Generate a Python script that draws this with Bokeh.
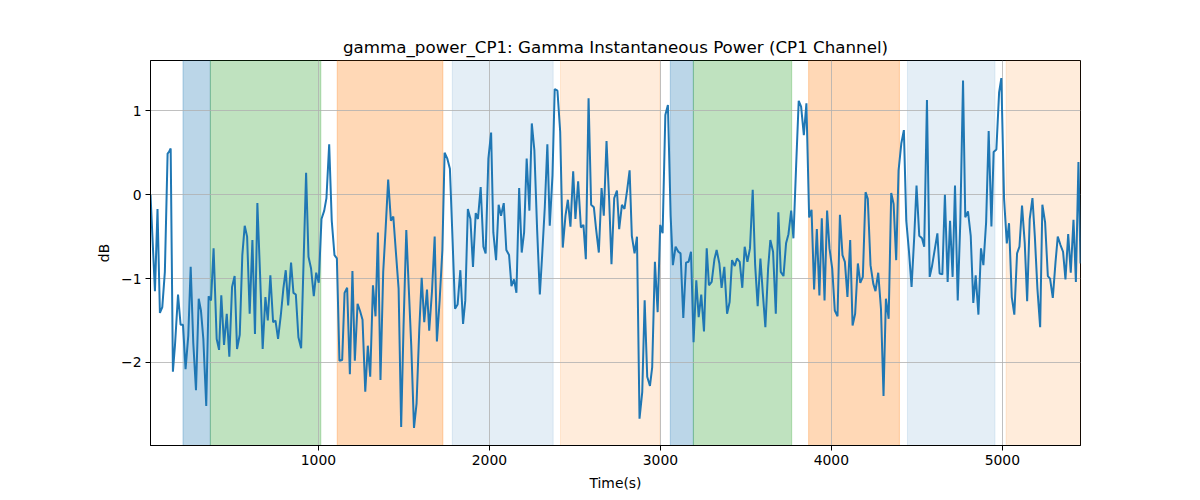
from bokeh.plotting import figure
from bokeh.models import FixedTicker, CustomJSTickFormatter, ColumnDataSource
from bokeh.embed import file_html
from bokeh.resources import INLINE

# ---- data ----
time_s = [18, 44, 59, 73, 87, 102, 118, 126, 136, 149, 161, 179, 194, 208, 223, 239, 253, 268, 284, 300,
          313, 327, 344, 358, 372, 387, 405, 419, 432, 448, 464, 479, 495, 510, 524, 540, 555, 569, 583, 598,
          614, 629, 643, 659, 674, 690, 704, 719, 735, 749, 764, 780, 795, 809, 823, 840, 854, 868, 883, 899,
          928, 942, 957, 973, 987, 1002, 1018, 1034, 1047, 1063, 1078, 1094, 1108, 1123, 1139, 1153, 1168, 1184, 1199, 1213,
          1229, 1244, 1258, 1274, 1289, 1303, 1319, 1334, 1348, 1363, 1379, 1393, 1408, 1424, 1438, 1453, 1469, 1484, 1498, 1514,
          1529, 1543, 1559, 1574, 1590, 1604, 1619, 1635, 1648, 1664, 1680, 1693, 1709, 1725, 1738, 1754, 1769, 1785, 1799, 1814,
          1830, 1846, 1859, 1874, 1889, 1904, 1920, 1933, 1949, 1965, 1978, 1994, 2010, 2023, 2039, 2054, 2068, 2084, 2099, 2115,
          2129, 2144, 2158, 2174, 2189, 2203, 2218, 2234, 2248, 2263, 2279, 2295, 2308, 2324, 2339, 2353, 2369, 2382, 2398, 2414,
          2429, 2445, 2459, 2474, 2490, 2503, 2519, 2535, 2550, 2564, 2580, 2595, 2611, 2624, 2640, 2656, 2669, 2685, 2701, 2714,
          2730, 2746, 2759, 2775, 2790, 2806, 2820, 2833, 2849, 2863, 2878, 2894, 2908, 2923, 2939, 2952, 2968, 2984, 2999, 3013,
          3029, 3044, 3060, 3073, 3089, 3105, 3118, 3134, 3150, 3165, 3179, 3194, 3210, 3224, 3239, 3255, 3271, 3284, 3300, 3316,
          3329, 3345, 3358, 3374, 3390, 3405, 3419, 3435, 3448, 3464, 3479, 3493, 3509, 3524, 3540, 3554, 3569, 3585, 3599, 3614,
          3630, 3643, 3659, 3675, 3690, 3704, 3720, 3735, 3749, 3765, 3778, 3794, 3809, 3823, 3839, 3854, 3870, 3884, 3899, 3915,
          3930, 3944, 3960, 3975, 3989, 4005, 4020, 4036, 4050, 4065, 4079, 4094, 4110, 4124, 4139, 4155, 4169, 4184, 4200, 4213,
          4229, 4245, 4258, 4274, 4290, 4305, 4319, 4335, 4350, 4364, 4379, 4393, 4409, 4424, 4438, 4454, 4469, 4485, 4498, 4514,
          4530, 4543, 4559, 4575, 4588, 4604, 4620, 4633, 4649, 4664, 4680, 4694, 4709, 4723, 4739, 4754, 4770, 4783, 4799, 4815,
          4830, 4844, 4860, 4875, 4889, 4905, 4920, 4936, 4949, 4965, 4981, 4994, 5010, 5026, 5039, 5055, 5070, 5086, 5100, 5115,
          5131, 5145, 5160, 5176, 5190, 5205, 5221, 5234, 5250, 5266, 5279, 5295, 5311, 5324, 5340, 5355, 5369, 5385, 5400, 5416,
          5430, 5445, 5457]

power_db = [0.00, -1.15, -0.17, -1.41, -1.34, -0.92, 0.49, 0.51, 0.55, -2.11, -1.80, -1.19, -1.55, -1.55, -2.08, -1.68, -0.86, -1.76, -2.33, -1.24,
            -1.38, -1.72, -2.52, -1.21, -1.26, -0.64, -1.72, -1.85, -1.20, -1.79, -1.42, -1.93, -1.10, -0.97, -1.84, -1.67, -0.72, -0.37, -0.50, -1.42,
            -0.54, -1.66, -0.10, -0.96, -1.84, -1.22, -1.50, -0.96, -1.52, -1.50, -1.72, -1.44, -1.12, -0.90, -1.32, -0.81, -1.17, -1.19, -1.70, -1.83,
            0.26, -0.74, -0.88, -1.21, -0.93, -1.05, -0.29, -0.19, -0.04, 0.60, -0.31, -0.72, -0.76, -1.98, -1.97, -1.17, -1.11, -2.14, -0.91, -1.98,
            -1.30, -1.39, -1.49, -2.35, -1.80, -2.17, -1.08, -1.45, -0.45, -2.21, -0.92, -0.41, 0.18, -0.31, -0.26, -0.68, -1.12, -2.77, -1.56, -0.42,
            -1.14, -1.80, -2.78, -2.49, -1.60, -0.99, -1.52, -1.13, -1.62, -1.16, -0.50, -1.75, -1.26, -0.66, 0.50, 0.43, 0.31, -0.56, -1.36, -1.31,
            -0.90, -1.54, -1.26, -0.17, -0.29, -0.86, -0.22, -0.29, 0.09, -0.62, -0.70, 0.43, 0.74, -0.45, -0.78, -0.12, -0.25, -0.10, -0.66, -0.72,
            -1.09, -1.01, -1.17, 0.08, -0.69, -0.45, 0.43, -0.19, 0.85, 0.53, -0.41, -1.19, -0.74, -0.15, 0.60, -0.37, 0.23, 1.26, 1.24, 0.75,
            -0.63, -0.25, -0.06, -0.38, 0.28, -0.29, 0.16, -0.39, -0.36, -0.77, 1.15, -0.12, -0.15, -0.41, -0.69, 0.08, -0.25, 0.64, -0.09, -0.83,
            -0.04, 0.05, -0.41, -0.12, -0.17, 0.06, 0.29, -0.49, -0.70, -0.50, -2.67, -2.35, -1.26, -2.17, -2.28, -2.06, -0.80, -1.40, -0.36, -0.46,
            0.95, 1.07, -0.25, -0.84, -0.62, -0.68, -0.70, -1.47, -0.81, -0.80, -0.68, -1.76, -1.02, -1.46, -1.19, -1.63, -0.64, -1.08, -1.04, -0.77,
            -0.66, -0.82, -1.11, -0.86, -1.42, -1.28, -0.78, -0.85, -0.76, -0.80, -1.11, -0.62, -0.80, -0.64, 0.06, -0.83, -1.33, -0.76, -1.17, -1.58,
            -0.88, -0.54, -0.68, -1.42, -0.21, -0.92, -0.97, -0.58, -0.47, -0.19, -0.52, 0.35, 1.12, 1.05, 0.71, 1.09, -0.27, -0.18, -1.13, -0.41,
            -1.20, -0.28, -1.26, -0.19, -0.64, -0.88, -1.38, -1.45, -0.24, -0.72, -0.80, -1.22, -0.54, -1.56, -1.42, -0.82, -1.05, -0.98, 0.03, -0.05,
            -0.84, -1.06, -1.15, -0.93, -1.36, -2.40, -1.24, -1.48, 0.02, -0.11, -0.78, 0.29, 0.61, 0.77, -0.31, -0.68, -1.10, -0.49, 0.11, -0.49,
            -0.52, -0.62, 1.13, -0.98, -0.86, -0.66, -0.46, -0.94, -0.95, 0.00, -1.04, -0.31, -0.98, 0.11, -1.26, -0.33, 1.36, -0.27, -0.20, -0.49,
            -1.29, -0.96, -1.43, -0.64, -0.84, -0.33, 0.76, -0.38, 0.51, 0.54, 1.22, 1.39, -0.05, -0.58, -0.34, -1.22, -1.43, -0.70, -0.62, -0.13,
            -0.58, -1.27, -0.29, -0.04, -0.50, -1.12, -1.58, -0.12, -0.33, -0.97, -1.00, -1.23, -0.80, -0.50, -0.60, -0.68, -1.01, -0.47, -0.93, -0.30,
            -1.04, 0.39, -0.82]

span_starts = [208, 368, 1110, 1783, 2416, 3058, 3193, 3867, 4445, 5022]
span_ends = [368, 1014, 1728, 2373, 2998, 3193, 3768, 4398, 4957, 5470]
span_colors = ["#1f77b4", "#2ca02c", "#ff7f0e", "#1f77b4", "#ff7f0e",
               "#1f77b4", "#2ca02c", "#ff7f0e", "#1f77b4", "#ff7f0e"]
span_alphas = [0.3, 0.3, 0.3, 0.12, 0.15, 0.3, 0.3, 0.3, 0.12, 0.15]

x_ticks = [1000, 2000, 3000, 4000, 5000]
y_ticks = [-2, -1, 0, 1]

FONT = "DejaVu Sans"

p = figure(width=1200, height=500, output_backend="svg", toolbar_location=None,
           x_range=(18, 5457), y_range=(-2.99, 1.60),
           min_border_left=150, min_border_right=120, min_border_top=60, min_border_bottom=55,
           title="gamma_power_CP1: Gamma Instantaneous Power (CP1 Channel)")

p.title.align = "center"
p.title.text_font = FONT
p.title.text_font_size = "16.7px"
p.title.text_font_style = "normal"
p.title.text_color = "black"
p.title.standoff = 8

span_src = ColumnDataSource(dict(left=span_starts, right=span_ends, color=span_colors, alpha=span_alphas))
p.quad(left="left", right="right", bottom=-10, top=10, source=span_src,
       fill_color="color", fill_alpha="alpha", line_color="color", line_alpha="alpha",
       line_width=1, level="image")

p.line(time_s, power_db, line_color="#1f77b4", line_width=2)

for g in (p.xgrid, p.ygrid):
    g.grid_line_color = "#b0b0b0"
    g.grid_line_width = 0.8

p.xaxis.ticker = FixedTicker(ticks=x_ticks)
p.yaxis.ticker = FixedTicker(ticks=y_ticks)
p.xgrid.ticker = FixedTicker(ticks=x_ticks)
p.ygrid.ticker = FixedTicker(ticks=y_ticks)

minus_fmt = CustomJSTickFormatter(code="return (tick < 0 ? '\u2212' : '') + Math.abs(tick).toString();")
p.yaxis.formatter = minus_fmt
p.xaxis.formatter = CustomJSTickFormatter(code="return Math.round(tick).toString();")

p.xaxis.axis_label = "Time(s)"
p.yaxis.axis_label = "dB"
for ax in (p.xaxis[0], p.yaxis[0]):
    ax.axis_label_text_font = FONT
    ax.axis_label_text_font_size = "13.9px"
    ax.axis_label_text_font_style = "normal"
    ax.axis_label_text_color = "black"
    ax.major_label_text_font = FONT
    ax.major_label_text_font_size = "13.9px"
    ax.major_label_text_color = "black"
    ax.minor_tick_line_color = None
    ax.major_tick_in = 0
    ax.major_tick_out = 5
    ax.major_tick_line_color = "black"
    ax.axis_line_color = "black"
    ax.major_label_standoff = 4
p.xaxis.axis_label_standoff = 7
p.yaxis.axis_label_standoff = 6

p.outline_line_color = "black"
p.outline_line_width = 1
p.outline_line_alpha = 1
p.background_fill_color = "white"
p.border_fill_color = "white"

open("out.html", "w").write(file_html(p, INLINE))
